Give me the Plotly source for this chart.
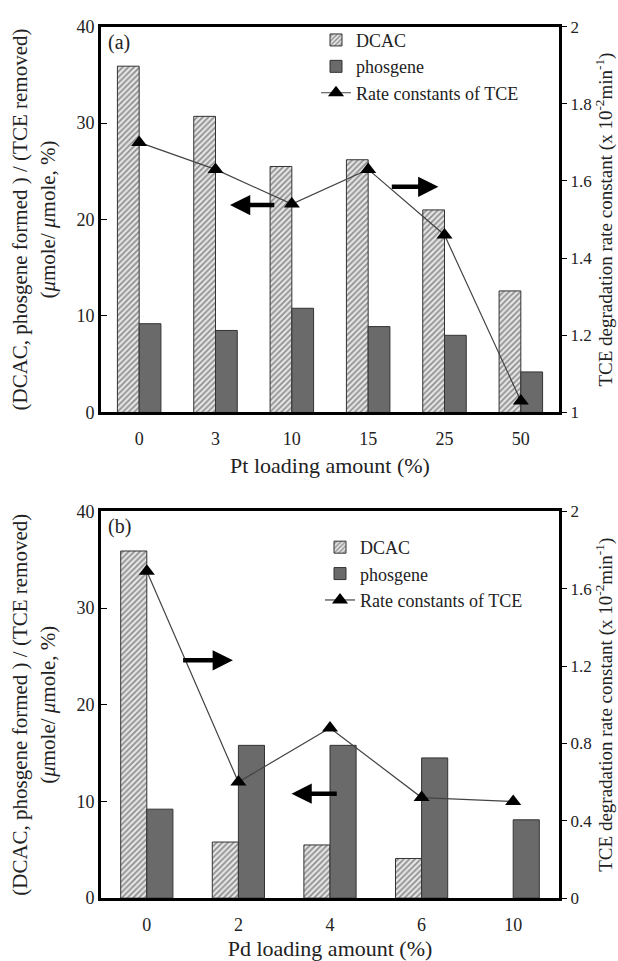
import plotly.graph_objects as go

# ---- data ----
pt_loading = ["0", "3", "10", "15", "25", "50"]
pt_dcac = [35.9, 30.7, 25.5, 26.2, 21.0, 12.6]
pt_phosgene = [9.2, 8.5, 10.8, 8.9, 8.0, 4.2]
pt_rate = [1.70, 1.63, 1.54, 1.63, 1.46, 1.03]

pd_loading = ["0", "2", "4", "6", "10"]
pd_dcac = [35.9, 5.8, 5.5, 4.1, None]
pd_phosgene = [9.2, 15.8, 15.8, 14.5, 8.1]
pd_rate = [1.69, 0.60, 0.88, 0.52, 0.50]

FONT = "Liberation Serif, Times New Roman, serif"
TXT = "#222222"
HATCH = dict(shape="/", fgcolor="#333333", bgcolor="#e4e4e4", size=4, solidity=0.4)
PHOS = "#6a6a6a"
EDGE = "#333333"

fig = go.Figure()

def add_panel(cats, dcac, phos, rate, xa, ya, ya2, leg):
    fig.add_trace(go.Bar(x=cats, y=dcac, name="DCAC", xaxis=xa, yaxis=ya, legend=leg,
                         marker=dict(color="#e4e4e4", pattern=HATCH, line=dict(color=EDGE, width=1))))
    fig.add_trace(go.Bar(x=cats, y=phos, name="phosgene", xaxis=xa, yaxis=ya, legend=leg,
                         marker=dict(color=PHOS, line=dict(color=EDGE, width=1))))
    fig.add_trace(go.Scatter(x=cats, y=rate, name="Rate constants of TCE", xaxis=xa, yaxis=ya2,
                             legend=leg, mode="lines+markers",
                             line=dict(color="#444444", width=1.2),
                             marker=dict(symbol="triangle-up", size=14, color="black")))

add_panel(pt_loading, pt_dcac, pt_phosgene, pt_rate, "x", "y", "y2", "legend")
add_panel(pd_loading, pd_dcac, pd_phosgene, pd_rate, "x2", "y3", "y4", "legend2")

W, H = 618, 961
xdom = [101 / W, 559 / W]
top_dom = [1 - 411 / H, 1 - 17 / H]
bot_dom = [1 - 907 / H, 1 - 512 / H]

tickfont = dict(family=FONT, size=18, color=TXT)
rtickfont = dict(family=FONT, size=17, color=TXT)
xtitlefont = dict(family=FONT, size=22, color=TXT)
ytitlefont = dict(family=FONT, size=21, color=TXT)
rtitlefont = dict(family=FONT, size=19, color=TXT)

def xaxis(dom_anchor, title):
    return dict(domain=xdom, anchor=dom_anchor, type="category", showline=True, mirror=True,
                linecolor="black", linewidth=3, ticks="", showgrid=False, zeroline=False,
                ticklabelstandoff=8,
                tickfont=tickfont, title=dict(text=title, font=xtitlefont, standoff=10))

def yleft(dom, anchor, dtick):
    return dict(domain=dom, anchor=anchor, range=[0, 40], dtick=dtick, showline=True,
                linecolor="black", linewidth=3, ticks="inside", ticklen=6, tickcolor="black",
                showgrid=False, zeroline=False, tickfont=tickfont,
                title=dict(text="(DCAC, phosgene formed ) / (TCE removed)<br>(<i>μ</i>mole/ <i>μ</i>mole, %)",
                           font=ytitlefont, standoff=16))

def yright(overl, anchor, rng, dtick):
    return dict(overlaying=overl, anchor=anchor, side="right", range=rng, dtick=dtick,
                showline=True, linecolor="black", linewidth=3, ticks="outside", ticklen=5,
                tickcolor="black", showgrid=False, zeroline=False, tickfont=rtickfont,
                title=dict(text="TCE degradation rate constant (x 10<sup>-2</sup>min<sup>-1</sup>)",
                           font=rtitlefont, standoff=6))

legend_common = dict(font=dict(family=FONT, size=18, color=TXT), bgcolor="rgba(0,0,0,0)",
                     xanchor="left", yanchor="top", tracegroupgap=0, itemwidth=30)

fig.update_layout(
    width=W, height=H, margin=dict(l=0, r=0, t=0, b=0),
    paper_bgcolor="white", plot_bgcolor="white",
    font=dict(family=FONT, color=TXT),
    barmode="group", bargap=0.43, bargroupgap=0,
    xaxis=xaxis("y", "Pt loading amount (%)"),
    yaxis=yleft(top_dom, "x", 10),
    yaxis2=yright("y", "x", [1, 2], 0.2),
    xaxis2=xaxis("y3", "Pd loading amount (%)"),
    yaxis3=yleft(bot_dom, "x2", 10),
    yaxis4=yright("y3", "x2", [0, 2], 0.4),
    legend=dict(x=316 / W, y=1 - 12 / H, **legend_common),
    legend2=dict(x=320 / W, y=1 - 530 / H, **legend_common),
    xaxis_range=[-0.5, 5.5], xaxis2_range=[-0.5, 4.5],
)

def arrow(xr, yr, head_x, tail_x, y):
    fig.add_annotation(xref=xr, yref=yr, axref=xr, ayref=yr, x=head_x, y=y, ax=tail_x, ay=y,
                       text="", showarrow=True, arrowhead=2, arrowsize=0.9, arrowwidth=4.5,
                       arrowcolor="black", standoff=0, startstandoff=0)

arrow("x", "y", 1.19, 1.79, 21.5)
arrow("x", "y", 3.92, 3.29, 23.4)
arrow("x2", "y3", 0.94, 0.38, 24.6)
arrow("x2", "y3", 1.58, 2.09, 10.8)

lblfont = dict(family=FONT, size=20, color=TXT)
fig.add_annotation(xref="paper", yref="paper", x=106 / W, y=1 - 33 / H, text="(a)",
                   showarrow=False, xanchor="left", yanchor="middle", font=lblfont)
fig.add_annotation(xref="paper", yref="paper", x=106 / W, y=1 - 527 / H, text="(b)",
                   showarrow=False, xanchor="left", yanchor="middle", font=lblfont)

fig.write_html("out.html")
